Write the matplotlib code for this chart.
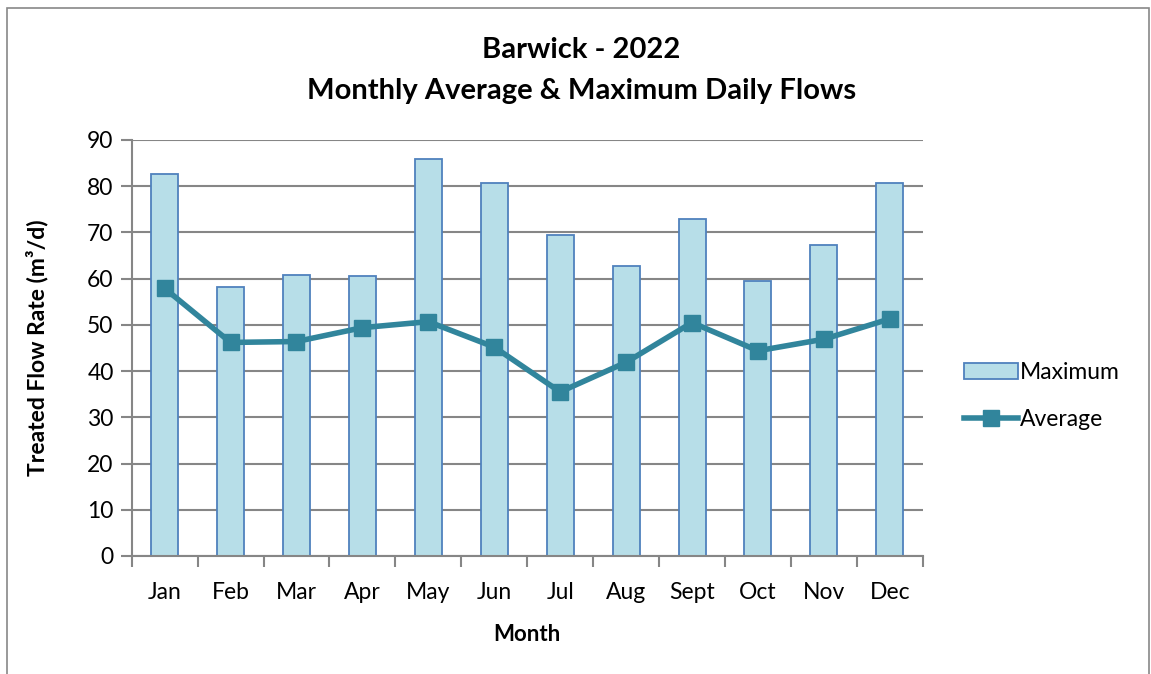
import numpy as np
import matplotlib
matplotlib.use("Agg")
import matplotlib.pyplot as plt
from matplotlib.patches import Rectangle

plt.rcParams['font.family'] = ['Lato', 'DejaVu Sans']

months = ['Jan', 'Feb', 'Mar', 'Apr', 'May', 'Jun', 'Jul', 'Aug', 'Sept', 'Oct', 'Nov', 'Dec']
maximum = [82.6, 58.3, 60.8, 60.6, 85.8, 80.6, 69.4, 62.7, 72.9, 59.4, 67.3, 80.7]
average = [57.9, 46.2, 46.4, 49.4, 50.7, 45.2, 35.5, 41.9, 50.5, 44.4, 46.9, 51.3]

fig = plt.figure(figsize=(11.51, 6.74), dpi=100)
ax = fig.add_axes([0.1144, 0.1751, 0.6873, 0.6172])

# outer chart border (like the excel chart area)
fig.patches.append(Rectangle((0.006, -0.05), 0.992, 1.038, transform=fig.transFigure,
                             fill=False, edgecolor='#888888', linewidth=1.2))

x = np.arange(len(months))
grid_c = '#868686'

bars = ax.bar(x, maximum, width=0.41, color='#B7DEE8', edgecolor='#4F81BD', linewidth=1.3,
              label='Maximum', zorder=2)
line, = ax.plot(x, average, color='#31859C', linewidth=4, marker='s', markersize=11,
                label='Average', zorder=3)

ax.set_xlim(-0.5, 11.5)
ax.set_ylim(0, 90)
ax.set_yticks(range(0, 91, 10))
ax.yaxis.grid(True, color=grid_c, linewidth=1.5, zorder=0)
ax.set_axisbelow(True)

ax.set_xticks(x)
ax.set_xticklabels(months)
ax.set_xticks(np.arange(-0.5, 12, 1), minor=True)
ax.tick_params(axis='x', which='major', length=0, pad=19, labelsize=16.5)
ax.tick_params(axis='x', which='minor', length=8, width=1.5, color=grid_c)
ax.tick_params(axis='y', length=8, width=1.5, color=grid_c, labelsize=16.5, pad=5)

for s in ['top', 'right']:
    ax.spines[s].set_visible(False)
for s in ['left', 'bottom']:
    ax.spines[s].set_color(grid_c)
    ax.spines[s].set_linewidth(1.5)

ax.set_xlabel('Month', fontsize=16, fontweight='bold', labelpad=15)
ax.set_ylabel('Treated Flow Rate (m³/d)', fontsize=16.5, fontweight='bold', labelpad=28)

fig.text(0.505, 0.926, 'Barwick - 2022', ha='center', va='center', fontsize=21, fontweight='bold')
fig.text(0.505, 0.865, 'Monthly Average & Maximum Daily Flows', ha='center', va='center',
         fontsize=21, fontweight='bold')

ax.legend([bars, line], ['Maximum', 'Average'], loc='center left',
          bbox_to_anchor=(1.026, 0.385), frameon=False, fontsize=16.5,
          handlelength=2.35, handletextpad=0.1, labelspacing=1.15)

fig.savefig('out.png', dpi=100)
